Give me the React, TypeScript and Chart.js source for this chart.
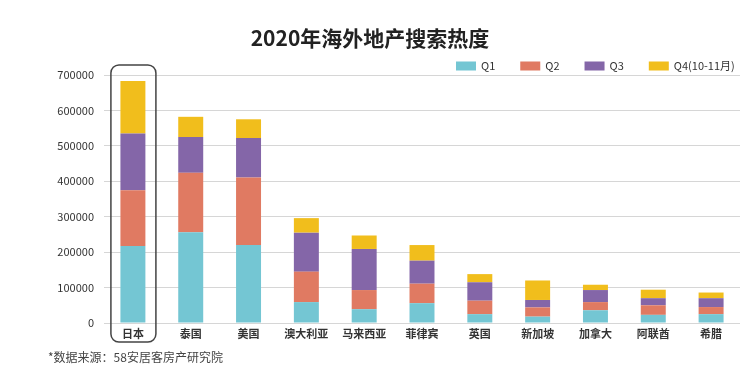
import React, { useEffect, useRef } from "react";
import { Chart, registerables } from "chart.js";

Chart.register(...registerables);

const categories = ["日本", "泰国", "美国", "澳大利亚", "马来西亚", "菲律宾", "英国", "新加坡", "加拿大", "阿联酋", "希腊"];
const q1 = [217000, 256000, 220000, 59000, 39000, 56000, 25000, 18000, 36000, 23000, 25000];
const q2 = [158000, 168000, 191000, 86000, 54000, 55000, 38000, 26000, 23000, 27000, 20000];
const q3 = [160000, 101000, 111000, 110000, 116000, 65000, 52000, 21000, 34000, 20000, 25000];
const q4 = [148000, 57000, 53000, 41000, 38000, 44000, 23000, 55000, 15000, 24000, 16000];
const seriesLabels = ["Q1", "Q2", "Q3", "Q4(10-11月)"];
const seriesColors = ["#74C6D3", "#E07A62", "#8466A8", "#F1BE1C"];
const titleText = "2020年海外地产搜索热度";
const sourceText = "*数据来源：58安居客房产研究院";
const FONT = "'Noto Sans CJK SC', 'Noto Sans', sans-serif";

const decorPlugin = {
  id: "decor",
  afterDraw(chart: any) {
    const ctx = chart.ctx;
    const xs = chart.scales.x;
    ctx.save();
    // legend
    ctx.font = `11px ${FONT}`;
    ctx.textBaseline = "middle";
    let x = 456;
    const y = 66;
    chart.data.datasets.forEach((ds: any) => {
      ctx.fillStyle = ds.backgroundColor;
      ctx.fillRect(x, y - 4.5, 20, 9);
      ctx.fillStyle = "#333";
      ctx.textAlign = "left";
      ctx.fillText(ds.label, x + 25, y);
      x += 25 + ctx.measureText(ds.label).width + 25;
    });
    // highlight box around first category
    const cx = xs.getPixelForValue(0);
    const left = cx - 22, right = cx + 23, top = 65, bottom = 342, r = 8;
    ctx.strokeStyle = "#444";
    ctx.lineWidth = 1.5;
    ctx.beginPath();
    ctx.moveTo(left + r, top);
    ctx.lineTo(right - r, top);
    ctx.arcTo(right, top, right, top + r, r);
    ctx.lineTo(right, bottom - r);
    ctx.arcTo(right, bottom, right - r, bottom, r);
    ctx.lineTo(left + r, bottom);
    ctx.arcTo(left, bottom, left, bottom - r, r);
    ctx.lineTo(left, top + r);
    ctx.arcTo(left, top, left + r, top, r);
    ctx.closePath();
    ctx.stroke();
    // source note
    ctx.font = `12px ${FONT}`;
    ctx.fillStyle = "#444";
    ctx.textAlign = "left";
    ctx.fillText(sourceText, 48, 357);
    ctx.restore();
  },
};

export default function App() {
  const ref = useRef<HTMLCanvasElement | null>(null);
  useEffect(() => {
    document.body.style.margin = "0";
    const values = [q1, q2, q3, q4];
    const chart = new Chart(ref.current as HTMLCanvasElement, {
      type: "bar",
      data: {
        labels: categories,
        datasets: values.map((v, i) => ({
          label: seriesLabels[i],
          data: v,
          backgroundColor: seriesColors[i],
          borderWidth: 0,
          barPercentage: 0.9,
          categoryPercentage: 0.48,
        })),
      },
      options: {
        animation: false,
        responsive: false,
        maintainAspectRatio: false,
        layout: { padding: { left: 0, right: 13, top: 0, bottom: 30 } },
        plugins: {
          legend: { display: false },
          tooltip: { enabled: false },
          title: {
            display: true,
            text: titleText,
            color: "#222",
            font: { family: FONT, size: 21, weight: "bold" },
            padding: { top: 25, bottom: 24.8 },
          },
        },
        scales: {
          x: {
            stacked: true,
            afterFit(scale: any) {
              scale.height = 20;
            },
            grid: { display: false, drawTicks: false, tickLength: 0 },
            border: { display: false },
            ticks: { color: "#333", font: { family: FONT, size: 11, weight: "bold" }, padding: 4, maxRotation: 0, autoSkip: false },
          },
          y: {
            stacked: true,
            min: 0,
            max: 700000,
            afterFit(scale: any) {
              scale.width = 104;
            },
            grid: { color: "#d6d6d6", lineWidth: 1, drawTicks: false },
            border: { display: false },
            ticks: {
              stepSize: 100000,
              padding: 10,
              color: "#333",
              font: { family: FONT, size: 11 },
              callback: (v: any) => String(v),
            },
          },
        },
      },
      plugins: [decorPlugin],
    });
    return () => chart.destroy();
  }, []);
  return (
    <div style={{ width: 753, height: 373, background: "#fff" }}>
      <canvas ref={ref} width={753} height={373} style={{ display: "block" }} />
    </div>
  );
}
